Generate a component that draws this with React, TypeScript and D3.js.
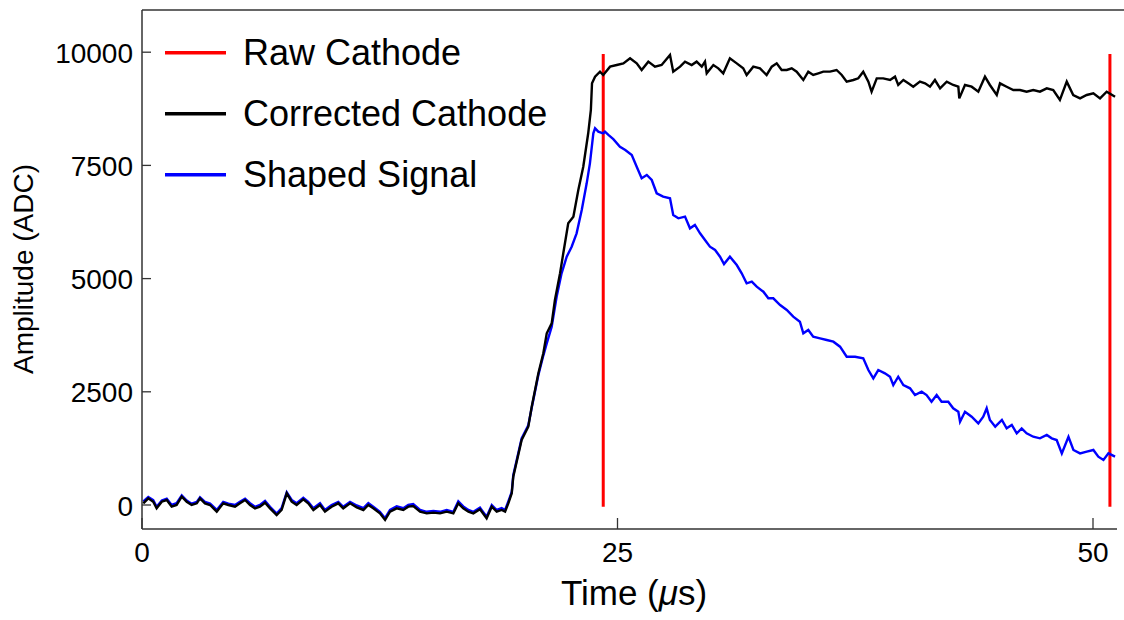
import React from "react";
import * as d3 from "d3";

// Time (µs), Amplitude (ADC) pairs
const correctedCathode: [number, number][] = [
  [0.07, 37], [0.33, 148], [0.59, 73], [0.77, -73], [1.04, 73], [1.3, 110], [1.56, -37], [1.82, 0],
  [2.09, 183], [2.35, 73], [2.61, 0], [2.88, 37], [3.05, 148], [3.31, 37], [3.58, 0], [3.93, -147],
  [4.27, 37], [4.54, 0], [4.89, -37], [5.15, 37], [5.42, 110], [5.68, 0], [5.94, -73], [6.2, -37],
  [6.47, 51], [6.73, -73], [7.08, -221], [7.34, -110], [7.61, 258], [7.87, 73], [8.13, 0], [8.48, 126],
  [8.74, 37], [9.01, -110], [9.36, 0], [9.62, -147], [9.97, -37], [10.32, 37], [10.58, -73], [10.94, 37],
  [11.29, -51], [11.64, -110], [11.9, 0], [12.16, -73], [12.51, -184], [12.78, -331], [13.04, -147],
  [13.39, -73], [13.74, -110], [14.0, -37], [14.26, -22], [14.62, -147], [14.97, -184], [15.32, -169],
  [15.67, -184], [16.02, -147], [16.37, -184], [16.63, 37], [16.89, -73], [17.16, -147], [17.42, -184],
  [17.77, -95], [18.12, -294], [18.39, -37], [18.65, -147], [18.91, -110], [19.09, -147], [19.26, 37],
  [19.44, 258], [19.52, 625], [19.96, 1435], [20.31, 1730], [20.49, 2171], [20.84, 2908], [21.1, 3350],
  [21.28, 3792], [21.54, 4013], [21.71, 4527], [21.98, 5117], [22.15, 5559], [22.41, 6221], [22.68, 6367],
  [22.94, 6957], [23.2, 7472], [23.46, 8209], [23.6, 8724], [23.66, 9313], [23.82, 9460], [24.08, 9570],
  [24.25, 9497], [24.61, 9680], [24.96, 9717], [25.31, 9754], [25.66, 9865], [26.01, 9754], [26.27, 9607],
  [26.62, 9791], [26.97, 9680], [27.32, 9717], [27.76, 9938], [27.93, 9570], [28.29, 9680], [28.55, 9791],
  [28.9, 9717], [29.16, 9791], [29.43, 9680], [29.6, 9791], [29.69, 9533], [30.04, 9717], [30.3, 9644],
  [30.56, 9533], [30.91, 9865], [31.27, 9754], [31.61, 9644], [31.79, 9497], [32.14, 9680], [32.49, 9644],
  [32.84, 9497], [33.11, 9680], [33.37, 9754], [33.63, 9607], [33.9, 9607], [34.16, 9644], [34.42, 9570],
  [34.77, 9386], [35.03, 9570], [35.29, 9497], [35.56, 9533], [35.82, 9570], [36.17, 9570], [36.52, 9607],
  [36.79, 9497], [37.05, 9350], [37.4, 9386], [37.66, 9423], [37.92, 9570], [38.19, 9350], [38.36, 9128],
  [38.63, 9423], [38.97, 9423], [39.33, 9386], [39.59, 9460], [39.76, 9276], [40.03, 9386], [40.29, 9313],
  [40.55, 9238], [40.9, 9350], [41.17, 9313], [41.43, 9238], [41.69, 9386], [41.96, 9202], [42.31, 9350],
  [42.65, 9276], [42.92, 9238], [42.97, 8980], [43.27, 9276], [43.62, 9238], [43.97, 9128], [44.32, 9460],
  [44.58, 9276], [44.94, 9055], [45.11, 9313], [45.46, 9238], [45.81, 9165], [46.16, 9165], [46.51, 9128],
  [46.86, 9165], [47.21, 9128], [47.57, 9202], [47.91, 9165], [48.26, 8945], [48.62, 9350], [48.96, 9055],
  [49.32, 8980], [49.67, 9055], [50.02, 9092], [50.37, 8980], [50.72, 9128], [51.16, 9018],
];

const shapedSignal: [number, number][] = [
  [0.07, 80], [0.33, 175], [0.59, 110], [0.77, -40], [1.04, 100], [1.3, 140], [1.56, 0], [1.82, 40],
  [2.09, 210], [2.35, 100], [2.61, 30], [2.88, 70], [3.05, 170], [3.31, 70], [3.58, 30], [3.93, -110],
  [4.27, 70], [4.54, 30], [4.89, 0], [5.15, 70], [5.42, 140], [5.68, 40], [5.94, -40], [6.2, 0],
  [6.47, 90], [6.73, -40], [7.08, -190], [7.34, -70], [7.61, 280], [7.87, 110], [8.13, 40], [8.48, 160],
  [8.74, 70], [9.01, -70], [9.36, 40], [9.62, -110], [9.97, 0], [10.32, 70], [10.58, -40], [10.94, 70],
  [11.29, -10], [11.64, -70], [11.9, 40], [12.16, -40], [12.51, -150], [12.78, -290], [13.04, -110],
  [13.39, -30], [13.74, -70], [14.0, 0], [14.26, 20], [14.62, -110], [14.97, -150], [15.32, -130],
  [15.67, -150], [16.02, -110], [16.37, -150], [16.63, 80], [16.89, -30], [17.16, -110], [17.42, -150],
  [17.77, -60], [18.12, -260], [18.39, 0], [18.65, -110], [18.91, -70], [19.09, -110], [19.26, 80],
  [19.44, 290], [19.52, 660], [19.96, 1470], [20.31, 1760], [20.49, 2150], [20.84, 2870], [21.1, 3300],
  [21.28, 3571], [21.54, 3938], [21.8, 4600], [22.06, 5117], [22.33, 5484], [22.59, 5705], [22.85, 6000],
  [23.12, 6515], [23.38, 7104], [23.55, 7546], [23.73, 8209], [23.82, 8320], [23.99, 8245], [24.25, 8209],
  [24.34, 8245], [24.52, 8172], [24.78, 8080], [25.13, 7913], [25.41, 7840], [25.75, 7730], [26.01, 7472],
  [26.27, 7215], [26.54, 7288], [26.8, 7178], [27.06, 6884], [27.4, 6810], [27.76, 6774], [27.93, 6405],
  [28.2, 6331], [28.55, 6368], [28.81, 6110], [29.07, 6184], [29.34, 6000], [29.6, 5852], [29.86, 5705],
  [30.13, 5632], [30.39, 5484], [30.6, 5322], [30.91, 5484], [31.27, 5300], [31.53, 5117], [31.79, 4896],
  [32.06, 4932], [32.32, 4822], [32.67, 4711], [32.93, 4565], [33.19, 4565], [33.55, 4417], [33.9, 4306],
  [34.24, 4159], [34.59, 4048], [34.77, 3792], [35.03, 3865], [35.29, 3717], [35.65, 3681], [36.0, 3644],
  [36.35, 3607], [36.7, 3496], [37.05, 3275], [37.49, 3275], [37.92, 3240], [38.19, 2981], [38.45, 2798],
  [38.71, 2981], [39.06, 2908], [39.33, 2833], [39.5, 2650], [39.76, 2833], [40.03, 2650], [40.38, 2577],
  [40.64, 2429], [40.99, 2502], [41.25, 2429], [41.51, 2281], [41.78, 2429], [42.04, 2281], [42.39, 2281],
  [42.65, 2135], [42.92, 2060], [43.01, 1840], [43.27, 2060], [43.62, 1950], [43.97, 1803], [44.23, 1950],
  [44.41, 2135], [44.58, 1877], [44.86, 1729], [45.21, 1877], [45.46, 1693], [45.73, 1767], [45.99, 1582],
  [46.25, 1693], [46.51, 1582], [46.86, 1508], [47.21, 1472], [47.57, 1546], [47.83, 1472], [48.09, 1435],
  [48.36, 1140], [48.71, 1508], [48.97, 1215], [49.32, 1140], [49.67, 1177], [50.02, 1215], [50.28, 1067],
  [50.55, 994], [50.81, 1140], [51.16, 1067],
];

// Raw cathode: drawn as vertical segments
const rawCathodeA: [number, number][] = [[24.25, -40], [24.25, 9960]];
const rawCathodeB: [number, number][] = [[50.89, -40], [50.89, 9960]];

const xTicks = [0, 25, 50];
const yTicks = [0, 2500, 5000, 7500, 10000];

const legendItems = [
  { label: "Raw Cathode", color: "#ff0000" },
  { label: "Corrected Cathode", color: "#000000" },
  { label: "Shaped Signal", color: "#0000ff" },
];

const FONT = "'Liberation Sans', Arial, sans-serif";

export default function App() {
  const W = 1124;
  const H = 620;
  const x = d3.scaleLinear().domain([0, 50]).range([142, 1093]);
  const y = d3.scaleLinear().domain([0, 10000]).range([505, 52.2]);
  const left = 142;
  const top = 10;
  const bottom = 529;
  const rightBottom = 1117;
  const rightTop = 1124;

  const line = d3
    .line<[number, number]>()
    .x((d) => x(d[0]))
    .y((d) => y(d[1]));

  return (
    <svg
      width={W}
      height={H}
      style={{ position: "absolute", left: 0, top: 0, background: "#fff" }}
      fontFamily={FONT}
    >
      <rect x={0} y={0} width={W} height={H} fill="#fff" />
      {/* data */}
      <path d={line(rawCathodeA) || ""} fill="none" stroke="#ff0000" strokeWidth={3} />
      <path d={line(rawCathodeB) || ""} fill="none" stroke="#ff0000" strokeWidth={3} />
      <path d={line(shapedSignal) || ""} fill="none" stroke="#0000ff" strokeWidth={2.4} />
      <path d={line(correctedCathode) || ""} fill="none" stroke="#000000" strokeWidth={2.4} />

      {/* spines */}
      <line x1={left} x2={rightTop} y1={top} y2={top} stroke="#333" strokeWidth={1.5} />
      <line x1={left} x2={rightBottom} y1={bottom} y2={bottom} stroke="#333" strokeWidth={1.5} />
      <line x1={left} x2={left} y1={top} y2={bottom} stroke="#333" strokeWidth={1.5} />

      {/* y ticks */}
      {yTicks.map((t) => (
        <g key={"y" + t}>
          <line x1={left} x2={left + 9} y1={y(t)} y2={y(t)} stroke="#333" strokeWidth={1.3} />
          <text x={133} y={y(t) + 10.5} fontSize={28} textAnchor="end" fill="#000">
            {t}
          </text>
        </g>
      ))}

      {/* x ticks */}
      {xTicks.map((t) => (
        <g key={"x" + t}>
          <line x1={x(t)} x2={x(t)} y1={bottom} y2={bottom - 11} stroke="#333" strokeWidth={1.3} />
          <text x={x(t)} y={562} fontSize={28} textAnchor="middle" fill="#000">
            {t}
          </text>
        </g>
      ))}

      {/* axis labels */}
      <text x={634} y={605} fontSize={35} textAnchor="middle" fill="#000">
        Time (<tspan fontStyle="italic">μ</tspan>s)
      </text>
      <text
        transform="translate(33,269) rotate(-90)"
        fontSize={28}
        textAnchor="middle"
        fill="#000"
      >
        Amplitude (ADC)
      </text>

      {/* legend */}
      {legendItems.map((item, i) => {
        const ly = 52.7 + i * 61;
        return (
          <g key={item.label}>
            <line x1={165} x2={226} y1={ly} y2={ly} stroke={item.color} strokeWidth={3.5} />
            <text x={243} y={ly + 12.5} fontSize={36} fill="#000">
              {item.label}
            </text>
          </g>
        );
      })}
    </svg>
  );
}
